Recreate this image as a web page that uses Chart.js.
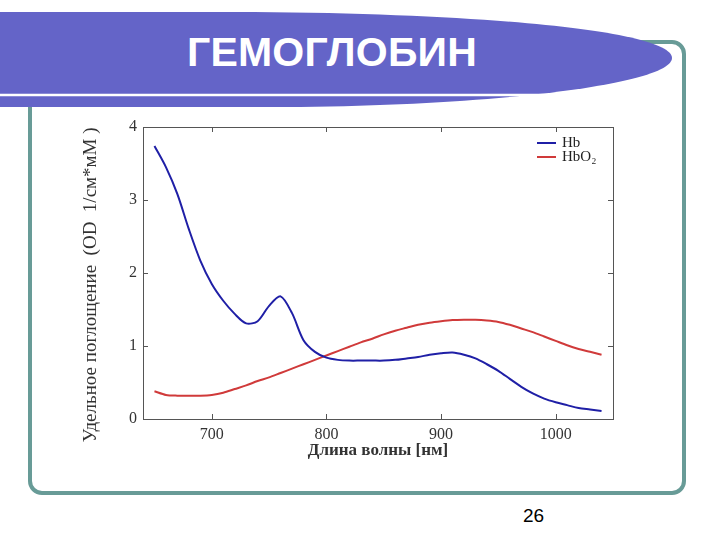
<!DOCTYPE html>
<html lang="ru">
<head>
    <meta charset="UTF-8">
    <title>Гемоглобин</title>
    <script src="https://cdn.jsdelivr.net/npm/chart.js"></script>
    <style>
        body {
            margin: 0;
            width: 720px;
            height: 540px;
            position: relative;
            background: #fff;
            overflow: hidden;
            font-family: "Liberation Sans", Arial, sans-serif;
        }
        .frame {
            position: absolute;
            left: 28px;
            top: 40px;
            width: 650px;
            height: 447px;
            border: 4px solid #689b97;
            border-radius: 14px;
        }
        .banner {
            position: absolute;
            left: 0;
            top: 0;
        }
        .title {
            position: absolute;
            left: 0;
            width: 664px;
            top: 29px;
            text-align: center;
            color: #fff;
            font-weight: bold;
            font-size: 41px;
            letter-spacing: 0.2px;
        }
        .page-num {
            position: absolute;
            left: 523px;
            top: 505px;
            font-size: 19px;
            color: #000;
        }
        .chart-box {
            position: absolute;
            left: 78px;
            top: 110px;
            width: 562px;
            height: 355px;
        }
    </style>
</head>
<body>
    <div class="frame"></div>
    <svg class="banner" width="720" height="120">
        <path d="M0,12 L250,12 C520,14 672,34 672,58 C672,82 520,104 300,107 L0,107 Z" fill="#6464c8"/>
        <path d="M0,95 L548,95" stroke="#fff" stroke-width="2.5"/>
    </svg>
    <div class="title">ГЕМОГЛОБИН</div>
    <div class="page-num">26</div>

    <div class="chart-box">
        <canvas id="hbChart"></canvas>
    </div>

    <script>
        // wavelength, nm
        const wavelengths = [650, 660, 670, 680, 690, 700, 710, 720, 730, 740,
                             750, 760, 770, 780, 790, 800, 810, 820, 830, 840,
                             850, 860, 870, 880, 890, 900, 910, 920, 930, 940,
                             950, 960, 970, 980, 990, 1000, 1010, 1020, 1030, 1040];
        const hb = [3.74, 3.45, 3.08, 2.60, 2.17, 1.85, 1.62, 1.44, 1.31, 1.34,
                    1.55, 1.68, 1.45, 1.08, 0.92, 0.84, 0.81, 0.80, 0.80, 0.80,
                    0.80, 0.81, 0.83, 0.85, 0.88, 0.90, 0.91, 0.88, 0.83, 0.75,
                    0.66, 0.55, 0.44, 0.35, 0.28, 0.23, 0.19, 0.15, 0.13, 0.11];
        const hbo2 = [0.38, 0.33, 0.32, 0.32, 0.32, 0.33, 0.36, 0.41, 0.46, 0.52,
                      0.57, 0.63, 0.69, 0.75, 0.81, 0.87, 0.93, 0.99, 1.05, 1.10,
                      1.16, 1.21, 1.25, 1.29, 1.32, 1.34, 1.355, 1.36, 1.36, 1.35,
                      1.33, 1.29, 1.24, 1.19, 1.13, 1.07, 1.01, 0.96, 0.92, 0.88];
        const xTicks = [700, 800, 900, 1000];
        const yTicks = [0, 1, 2, 3, 4];

        const serif = '"Liberation Serif", "Times New Roman", serif';
        const axisColor = '#555';

        // box round the plot with ticks pointing inward, like the original figure
        const boxPlugin = {
            id: 'box',
            afterDraw(chart) {
                const ctx = chart.ctx;
                const a = chart.chartArea;
                const xs = chart.scales.x, ys = chart.scales.y;
                ctx.save();
                ctx.strokeStyle = axisColor;
                ctx.lineWidth = 1;
                ctx.strokeRect(a.left + 0.5, a.top + 0.5, a.right - a.left, a.bottom - a.top);
                ctx.beginPath();
                xTicks.forEach(v => {
                    const px = Math.round(xs.getPixelForValue(v)) + 0.5;
                    ctx.moveTo(px, a.bottom); ctx.lineTo(px, a.bottom - 5);
                    ctx.moveTo(px, a.top); ctx.lineTo(px, a.top + 5);
                });
                yTicks.forEach(v => {
                    const py = Math.round(ys.getPixelForValue(v)) + 0.5;
                    ctx.moveTo(a.left, py); ctx.lineTo(a.left + 5, py);
                    ctx.moveTo(a.right, py); ctx.lineTo(a.right - 5, py);
                });
                ctx.stroke();

                // legend in the upper right corner
                ctx.font = '15px ' + serif;
                ctx.textBaseline = 'middle';
                chart.data.datasets.forEach((ds, i) => {
                    const y = a.top + 16 + i * 14;
                    ctx.strokeStyle = ds.borderColor;
                    ctx.lineWidth = 2;
                    ctx.beginPath();
                    ctx.moveTo(a.right - 76, y);
                    ctx.lineTo(a.right - 57, y);
                    ctx.stroke();
                    ctx.fillStyle = '#222';
                    ctx.fillText(ds.label, a.right - 51, y);
                });
                ctx.restore();
            }
        };

        new Chart(document.getElementById('hbChart'), {
            type: 'line',
            data: {
                datasets: [{
                    label: 'Hb',
                    data: wavelengths.map((w, i) => ({ x: w, y: hb[i] })),
                    borderColor: '#1f1fa6',
                    borderWidth: 2,
                    pointRadius: 0,
                    tension: 0.3
                }, {
                    label: 'HbO₂',
                    data: wavelengths.map((w, i) => ({ x: w, y: hbo2[i] })),
                    borderColor: '#d03a3a',
                    borderWidth: 2,
                    pointRadius: 0,
                    tension: 0.3
                }]
            },
            options: {
                responsive: true,
                maintainAspectRatio: false,
                animation: false,
                layout: { padding: { top: 17, right: 27, left: 0, bottom: 0 } },
                plugins: {
                    legend: { display: false },
                    tooltip: { enabled: false }
                },
                scales: {
                    x: {
                        type: 'linear',
                        min: 640,
                        max: 1050,
                        afterBuildTicks: axis => { axis.ticks = xTicks.map(v => ({ value: v })); },
                        afterFit: axis => { axis.height = 46; },
                        grid: { display: false, drawTicks: false },
                        border: { color: axisColor },
                        ticks: {
                            callback: v => String(v),
                            color: '#333',
                            font: { family: serif, size: 16 },
                            padding: 6,
                            maxRotation: 0
                        },
                        title: {
                            display: true,
                            text: 'Длина волны [нм]',
                            color: '#333',
                            font: { family: serif, size: 17, weight: 'bold' },
                            padding: { top: 0, bottom: 4 }
                        }
                    },
                    y: {
                        min: 0,
                        max: 4,
                        afterBuildTicks: axis => { axis.ticks = yTicks.map(v => ({ value: v })); },
                        afterFit: axis => { axis.width = 65; },
                        grid: { display: false, drawTicks: false },
                        border: { color: axisColor },
                        ticks: {
                            color: '#333',
                            font: { family: serif, size: 16 },
                            padding: 6
                        },
                        title: {
                            display: true,
                            text: 'Удельное поглощение  (OD  1/см*мМ )     ',
                            color: '#333',
                            font: { family: serif, size: 19 },
                            padding: { top: 2, bottom: 0 }
                        }
                    }
                }
            },
            plugins: [boxPlugin]
        });
    </script>
</body>
</html>
